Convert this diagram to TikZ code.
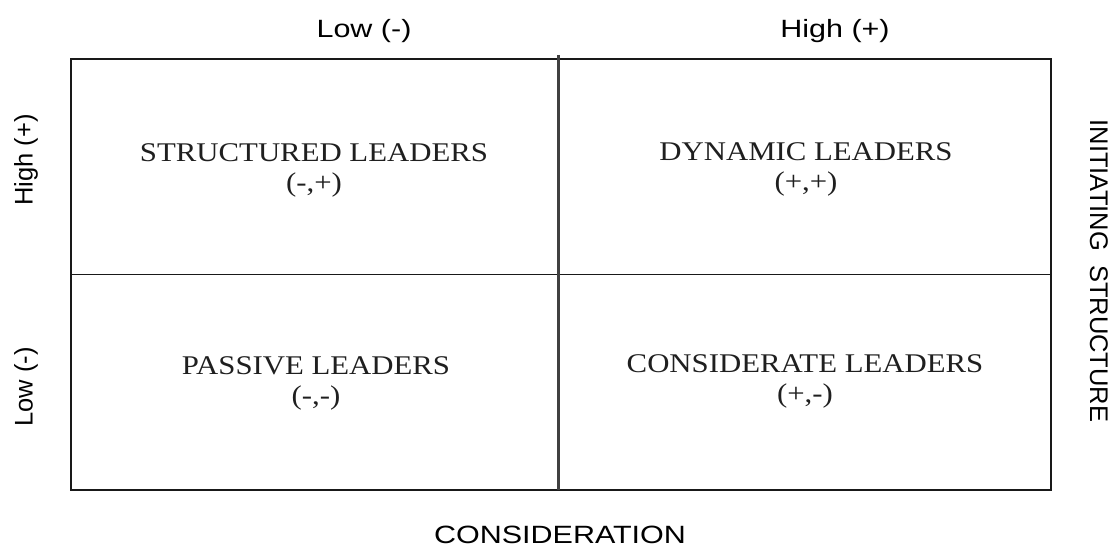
\documentclass[tikz,border=0pt]{standalone}
\usepackage{fontspec}
\setmainfont{Liberation Serif}
\setsansfont{Liberation Sans}
\newfontfamily\labsans[FakeStretch=1.22]{Liberation Sans}
\newfontfamily\labserif[FakeStretch=1.14]{Liberation Serif}
\newfontfamily\sidesans{Liberation Sans}
\begin{document}
\begin{tikzpicture}[x=1pt,y=-1pt,
  axislab/.style={font=\labsans\fontsize{25}{30}\selectfont, inner sep=0pt, anchor=base},
  sidelab/.style={font=\sidesans\fontsize{25.5}{30}\selectfont, inner sep=0pt},
  quad/.style={font=\labserif\fontsize{27}{30}\selectfont, align=center, inner sep=0pt, text=black!88},
  frame/.style={line width=2pt, black!90},
  hmid/.style={line width=1.8pt, black!90},
  vmid/.style={line width=2.4pt, black!75},
]
\useasboundingbox (0,0) rectangle (1117,548);
\fill[white] (0,0) rectangle (1117,548);

% frame corners
\coordinate (tl) at (71,59);
\coordinate (br) at (1051,490);
\coordinate (ml) at (71,274.5);
\coordinate (mr) at (1051,274.5);
\coordinate (mt) at (558.5,55);
\coordinate (mb) at (558.5,490);

\draw[frame] (tl) rectangle (br);
\draw[hmid] (ml) -- (mr);
\draw[vmid] (mt) -- (mb);

% top axis labels
\node[axislab] (lowtop) at (364,38) {Low (-)};
\node[axislab] (hightop) at (835,38) {High (+)};

% bottom axis label
\node[axislab] (cons) at (560,543) {CONSIDERATION};

% left side labels
\node[sidelab, rotate=90] (highleft) at (26,160) {High (+)};
\node[sidelab, rotate=90] (lowleft) at (26,387) {Low (-)};

% right side label
\node[sidelab, rotate=-90] (init) at (1099,271) {INITIATING\hspace{14pt}STRUCTURE};

% quadrant labels
\node[quad] (structured) at (314,170.5) {STRUCTURED LEADERS\\(-,+)};
\node[quad] (dynamic) at (806,169.5) {DYNAMIC LEADERS\\(+,+)};
\node[quad] (passive) at (316,383.5) {PASSIVE LEADERS\\(-,-)};
\node[quad] (considerate) at (805,381.5) {CONSIDERATE LEADERS\\(+,-)};
\end{tikzpicture}
\end{document}
